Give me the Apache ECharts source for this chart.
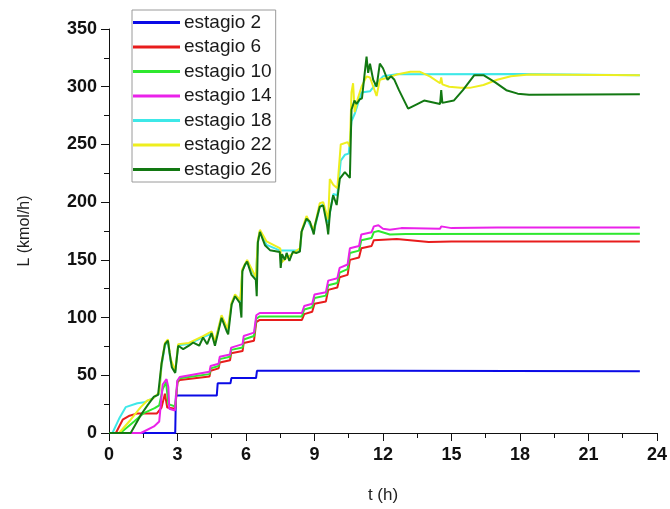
<!DOCTYPE html>
<html lang="pt">
<head>
    <meta charset="UTF-8">
    <title>L (kmol/h)</title>
    <script type="text/javascript" src="https://cdn.jsdelivr.net/npm/echarts@6/dist/echarts.min.js"></script>
    <style>
        body { margin: 0; background: #fff; }
        #main { width: 670px; height: 509px; }
    </style>
</head>
<body>
<div id="main"></div>
<script type="text/javascript">
    // tick labels of the axes
    var xTicks = [0, 3, 6, 9, 12, 15, 18, 21, 24];
    var yTicks = [0, 50, 100, 150, 200, 250, 300, 350];

    var names = ['estagio 2', 'estagio 6', 'estagio 10', 'estagio 14', 'estagio 18', 'estagio 22', 'estagio 26'];
    var colors = ['#0a0ae6', '#e81c1c', '#2ee82e', '#ea22ea', '#3ee8e8', '#eeee1e', '#127812'];

    // estagio 2
    var t2 = [0, 2.9, 2.93, 4.72, 4.76, 5.32, 5.36, 6.44, 6.48, 12, 23.25];
    var L2 = [0, 0, 32.4, 32.4, 43, 43, 47.6, 47.6, 53.9, 54, 53.6];

    // estagio 6
    var t6 = [0, 0.3, 0.6, 0.9, 1.25, 2.1, 2.3, 2.45, 2.55, 2.9, 3.0, 3.1, 4.4, 4.45, 4.8, 4.85, 5.3, 5.35, 5.85, 5.9, 6.35, 6.45, 6.6, 8.45, 8.55, 8.9, 9.0, 9.5, 9.6, 10.0, 10.1, 10.45, 10.55, 10.95, 11.05, 11.5, 11.6, 12.6, 14, 15, 23.25];
    var L6 = [0, 0, 11.5, 15, 17, 17, 22, 34, 22, 21, 44, 46, 49, 54, 56, 61, 63, 69, 71, 78, 80, 96, 98, 98, 103, 105, 112, 114, 124, 126, 135, 137, 150, 152, 160, 162, 167, 168, 165.5, 166, 166];

    // estagio 10
    var t10 = [0, 0.5, 1.1, 1.5, 2.0, 2.2, 2.35, 2.5, 2.6, 2.9, 3.0, 3.1, 4.4, 4.45, 4.8, 4.85, 5.3, 5.35, 5.85, 5.9, 6.35, 6.45, 6.6, 8.45, 8.55, 8.9, 9.0, 9.5, 9.6, 10.0, 10.1, 10.45, 10.55, 10.95, 11.05, 11.5, 11.6, 11.8, 12.3, 13, 23.25];
    var L10 = [0, 0, 10, 17, 21.5, 24, 38, 44, 25, 23, 45, 47.5, 51, 56, 58, 64, 66, 72, 74, 81, 84, 99, 101, 101, 107, 109, 117, 119, 128, 130, 139, 142, 156, 158, 167, 169, 174, 175, 172, 172.5, 172.6];

    // estagio 14
    var t14 = [0, 1.4, 1.97, 2.2, 2.35, 2.52, 2.6, 2.64, 2.89, 2.99, 3.1, 4.4, 4.45, 4.8, 4.85, 5.3, 5.35, 5.85, 5.9, 6.35, 6.45, 6.6, 8.45, 8.55, 8.9, 9.0, 9.5, 9.6, 10.0, 10.1, 10.45, 10.55, 10.95, 11.05, 11.5, 11.6, 11.8, 12.0, 12.3, 12.8, 14.5, 14.55, 15, 17, 23.25];
    var L14 = [0, 0, 5.7, 10, 42, 46.7, 39.6, 21, 19.5, 45.3, 48.5, 53, 58, 60, 66, 68, 74, 77, 84, 87, 102, 104, 104, 110, 112, 120, 122, 132, 134, 143, 146, 160, 162, 172, 174, 179, 180, 177, 176, 177.5, 177, 179, 177.5, 178, 178];

    // estagio 18
    var t18 = [0, 0.15, 0.44, 0.73, 1.24, 1.55, 1.9, 2.2, 2.3, 2.45, 2.58, 2.7, 2.9, 3.03, 3.5, 4.12, 4.5, 4.64, 4.93, 5.2, 5.37, 5.52, 5.75, 5.84, 6.05, 6.43, 6.52, 6.61, 6.9, 7.5, 8.36, 8.45, 8.65, 8.97, 9.23, 9.38, 9.6, 9.82, 10.0, 10.15, 10.33, 10.5, 10.62, 10.77, 10.9, 11.05, 11.43, 11.71, 12.0, 12.6, 18, 23.25];
    var L18 = [0, 0, 12.3, 22.4, 25.8, 26.6, 30, 34, 58, 76, 79, 62, 53, 76, 77, 83, 86, 78, 101, 88, 112, 119, 114, 141, 149, 134, 166, 175, 163, 158, 158, 175, 186, 174, 196, 198, 182, 207, 206, 236, 241, 242, 270, 277, 285, 295, 296, 303, 309, 310.7, 311, 310];

    // estagio 22
    var t22 = [0, 0.44, 0.95, 1.39, 1.68, 1.9, 2.2, 2.3, 2.45, 2.58, 2.7, 2.9, 3.03, 3.5, 4.12, 4.5, 4.64, 4.93, 5.2, 5.37, 5.52, 5.75, 5.84, 6.05, 6.43, 6.52, 6.61, 6.9, 7.5, 7.56, 7.8, 8.36, 8.45, 8.65, 8.97, 9.23, 9.38, 9.6, 9.67, 9.82, 10.0, 10.15, 10.45, 10.55, 10.62, 10.69, 10.76, 10.9, 11.06, 11.28, 11.43, 11.72, 11.86, 12.15, 12.6, 13.2, 13.6, 14.05, 14.5, 14.55, 14.6, 14.9, 15.4, 15.8, 16.4, 17.0, 17.6, 18.4, 23.25];
    var L22 = [0, 0, 11.5, 22.4, 28.1, 29.5, 35, 60, 78, 81, 64, 54, 77, 78, 84, 88, 79, 102, 90, 113, 120, 115, 142, 150, 135, 167, 176, 166, 160, 148, 152, 160, 176, 188, 176, 199, 200, 185, 220, 215, 212, 250, 252, 248, 295, 303, 278, 290, 300, 309, 308, 292, 306, 307.5, 310.5, 313, 313, 309, 303, 308, 302, 300, 299, 299, 301.5, 306, 309, 310.5, 310];

    // estagio 26
    var t26 = [0, 0.95, 1.4, 1.7, 1.97, 2.15, 2.3, 2.45, 2.58, 2.65, 2.75, 2.9, 2.98, 3.03, 3.25, 3.5, 3.69, 3.95, 4.12, 4.3, 4.49, 4.64, 4.72, 4.93, 5.15, 5.22, 5.37, 5.52, 5.73, 5.8, 5.84, 5.95, 6.05, 6.24, 6.43, 6.47, 6.52, 6.61, 6.83, 7.05, 7.48, 7.52, 7.58, 7.7, 7.78, 7.9, 8.05, 8.2, 8.36, 8.43, 8.65, 8.8, 8.97, 9.02, 9.23, 9.38, 9.55, 9.6, 9.68, 9.82, 9.97, 10.11, 10.33, 10.55, 10.62, 10.75, 10.84, 10.98, 11.08, 11.2, 11.28, 11.35, 11.43, 11.57, 11.72, 11.86, 12.0, 12.2, 12.35, 12.5, 12.7, 13.1, 13.5, 13.8, 14.5, 14.55, 14.6, 15.1, 15.5, 16.0, 16.4, 16.9, 17.4, 17.9, 18.4, 23.25];
    var L26 = [0, 0, 15.8, 24.4, 31.5, 33, 60, 77, 80, 70, 57, 52, 51, 75.6, 72.7, 75.6, 78.4, 75.6, 82.7, 76.9, 86.6, 75.6, 77, 99.8, 88.4, 85.5, 111.3, 118.5, 112.8, 100, 140, 145.6, 148.5, 137, 132.6, 118.5, 165, 174.2, 162.7, 158.4, 156.9, 143, 155, 150, 156, 149, 157, 156, 157.1, 174.3, 185.7, 183, 172, 180, 196, 197.2, 180, 172, 191.7, 206, 197.5, 220.4, 226, 221, 280, 288, 285, 289, 290, 312, 326, 312, 320, 306, 300, 320, 316, 306, 309, 306, 297, 281, 285, 288, 285, 297, 286, 288, 297, 310, 310, 304, 297, 294, 293, 293.5];

    var times = [t2, t6, t10, t14, t18, t22, t26];
    var values = [L2, L6, L10, L14, L18, L22, L26];

    var series = [];
    for (var i = 0; i < names.length; i++) {
        var pts = [];
        for (var j = 0; j < times[i].length; j++) {
            pts.push([times[i][j], values[i][j]]);
        }
        series.push({
            name: names[i],
            type: 'line',
            data: pts,
            symbol: 'none',
            lineStyle: { width: 2, color: colors[i] },
            itemStyle: { color: colors[i] }
        });
    }

    var font = '"Liberation Sans", Arial, sans-serif';

    var myChart = echarts.init(document.getElementById('main'));
    var option = {
        backgroundColor: '#ffffff',
        animation: false,
        grid: { left: 109, right: 13, top: 29, bottom: 73 },
        legend: {
            orient: 'vertical',
            left: 132,
            top: 10,
            data: names,
            icon: 'rect',
            itemWidth: 47,
            itemHeight: 3,
            itemGap: 5.5,
            padding: [3, 4, 3, 1],
            borderColor: '#9a9a9a',
            borderWidth: 1,
            backgroundColor: '#ffffff',
            textStyle: { fontFamily: font, fontSize: 19, color: '#1a1a1a', padding: [0, 0, 0, -1] }
        },
        xAxis: {
            type: 'value',
            min: xTicks[0],
            max: xTicks[xTicks.length - 1],
            interval: 3,
            name: 't (h)',
            nameLocation: 'middle',
            nameGap: 54,
            nameTextStyle: { fontFamily: font, fontSize: 17, color: '#222' },
            axisLine: { lineStyle: { color: '#111', width: 1 } },
            axisTick: { length: 8, lineStyle: { color: '#111' } },
            minorTick: { show: true, splitNumber: 2, length: 5, lineStyle: { color: '#111' } },
            splitLine: { show: false },
            axisLabel: { fontFamily: font, fontSize: 18, fontWeight: 'bold', color: '#111', margin: 13 }
        },
        yAxis: {
            type: 'value',
            min: yTicks[0],
            max: yTicks[yTicks.length - 1],
            interval: 50,
            name: 'L (kmol/h)',
            nameLocation: 'middle',
            nameGap: 76,
            nameTextStyle: { fontFamily: font, fontSize: 16, color: '#222' },
            axisLine: { show: true, lineStyle: { color: '#111', width: 1 } },
            axisTick: { show: true, length: 8, lineStyle: { color: '#111' } },
            minorTick: { show: true, splitNumber: 2, length: 5, lineStyle: { color: '#111' } },
            splitLine: { show: false },
            axisLabel: { fontFamily: font, fontSize: 18, fontWeight: 'bold', color: '#111', margin: 12 }
        },
        series: series
    };
    myChart.setOption(option);
</script>
</body>
</html>
